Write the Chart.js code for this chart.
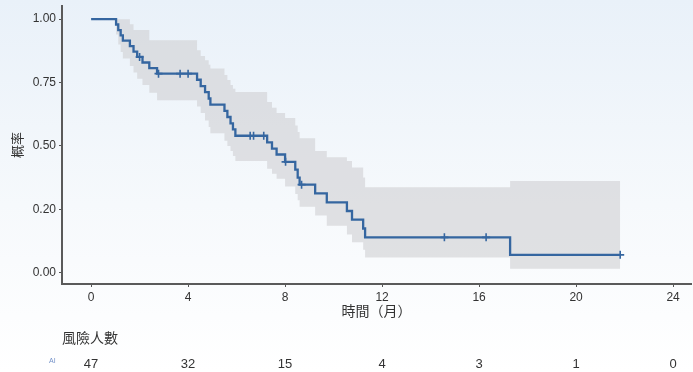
<!DOCTYPE html>
<html>
<head>
<meta charset="utf-8">
<script src="https://cdn.jsdelivr.net/npm/chart.js@4/dist/chart.umd.min.js"></script>
<style>
  html, body { margin: 0; padding: 0; background: #ffffff; }
  #wrap { width: 693px; height: 372px; }
</style>
</head>
<body>
<div id="wrap"><canvas id="km" width="693" height="372"></canvas></div>
<script>
// Kaplan-Meier estimate: step times (months) and survival after each step
const timePoints = [0, 1.03, 1.12, 1.22, 1.31, 1.60, 1.75, 1.90, 2.12, 2.40, 2.72,
  4.37, 4.52, 4.70, 4.85, 4.92, 5.50, 5.62, 5.75, 5.85, 5.95,
  7.26, 7.46, 7.65, 8.00, 8.42, 8.52, 8.60, 9.24, 9.72, 10.55, 10.76, 11.22, 11.30, 17.28, 21.82];
const survival = [1.000, 0.979, 0.957, 0.936, 0.915, 0.894, 0.872, 0.851, 0.829, 0.807, 0.785,
  0.761, 0.736, 0.712, 0.687, 0.663, 0.638, 0.614, 0.589, 0.565, 0.540,
  0.514, 0.489, 0.466, 0.437, 0.406, 0.375, 0.347, 0.313, 0.277, 0.243, 0.209, 0.174, 0.139, 0.070, 0.070];
// 95% confidence band
const upperCI = [1.000, 1.000, 1.000, 1.000, 1.000, 0.980, 0.957, 0.957, 0.957, 0.917, 0.917,
  0.877, 0.855, 0.838, 0.820, 0.805, 0.780, 0.760, 0.740, 0.725, 0.713,
  0.673, 0.650, 0.630, 0.610, 0.580, 0.555, 0.530, 0.480, 0.455, 0.440, 0.415, 0.375, 0.337, 0.361, 0.361];
const lowerCI = [1.000, 0.940, 0.900, 0.870, 0.845, 0.815, 0.790, 0.765, 0.740, 0.710, 0.680,
  0.655, 0.630, 0.600, 0.575, 0.550, 0.520, 0.500, 0.480, 0.460, 0.440,
  0.410, 0.390, 0.370, 0.340, 0.310, 0.285, 0.260, 0.225, 0.185, 0.150, 0.120, 0.090, 0.060, 0.015, 0.015];
// censored observations (months)
const censorTimes = [2.00, 2.78, 3.67, 4.00, 6.56, 6.70, 7.12, 8.02, 8.68, 14.57, 16.29, 21.82];

// axes
const xTickValues = [0, 4, 8, 12, 16, 20, 24];
const yTickValues = [0, 0.25, 0.5, 0.75, 1];
const yTickLabels = ['0.00', '0.20', '0.50', '0.75', '1.00'];
// number at risk at each x tick
const atRisk = [47, 32, 15, 4, 3, 1, 0];

const LINE = '#3566a0';
const TEXT = '#333333';
const NUM_FONT = '"Liberation Sans", Arial, sans-serif';
const CJK_FONT = '"Noto Sans CJK TC", "Noto Sans CJK SC", sans-serif';

function stepValueAt(t) {
  let v = survival[0];
  for (let i = 0; i < timePoints.length; i++) {
    if (timePoints[i] <= t) v = survival[i]; else break;
  }
  return v;
}

const toXY = arr => timePoints.map((t, i) => ({ x: t, y: arr[i] }));

const backdrop = {
  id: 'backdrop',
  beforeDraw(chart) {
    const { ctx, width, height } = chart;
    const g = ctx.createLinearGradient(0, 0, 0, height);
    g.addColorStop(0, 'rgb(233,241,249)');
    g.addColorStop(0.55, 'rgb(246,249,252)');
    g.addColorStop(1, 'rgb(255,255,255)');
    ctx.save();
    ctx.fillStyle = g;
    ctx.fillRect(0, 0, width, height);
    ctx.restore();
  }
};

const riskTable = {
  id: 'riskTable',
  afterDraw(chart) {
    const { ctx } = chart;
    const xs = chart.scales.x;
    ctx.save();
    ctx.textBaseline = 'middle';
    ctx.fillStyle = TEXT;
    ctx.textAlign = 'left';
    ctx.font = '14px ' + CJK_FONT;
    ctx.fillText('風險人數', 62, 338);
    ctx.textAlign = 'center';
    ctx.font = '13px ' + NUM_FONT;
    atRisk.forEach((n, i) => {
      ctx.fillText(String(n), xs.getPixelForValue(xTickValues[i]), 364);
    });
    ctx.textAlign = 'left';
    ctx.fillStyle = '#7391c8';
    ctx.font = '7px ' + NUM_FONT;
    ctx.fillText('AI', 49, 361);
    ctx.restore();
  }
};

new Chart(document.getElementById('km'), {
  type: 'line',
  data: {
    datasets: [
      {
        label: 'upper',
        data: toXY(upperCI),
        stepped: true,
        borderColor: 'rgba(0,0,0,0)',
        borderWidth: 0,
        pointRadius: 0,
        backgroundColor: 'rgba(208,209,211,0.62)',
        fill: '+1',
        order: 3
      },
      {
        label: 'lower',
        data: toXY(lowerCI),
        stepped: true,
        borderColor: 'rgba(0,0,0,0)',
        borderWidth: 0,
        pointRadius: 0,
        fill: false,
        order: 3
      },
      {
        label: 'survival',
        data: toXY(survival),
        stepped: true,
        borderColor: LINE,
        borderWidth: 2.3,
        pointRadius: 0,
        fill: false,
        order: 1
      },
      {
        label: 'censored',
        type: 'scatter',
        data: censorTimes.map(t => ({ x: t, y: stepValueAt(t) })),
        showLine: false,
        pointStyle: 'cross',
        pointRadius: 4,
        borderColor: LINE,
        borderWidth: 1.6,
        order: 0
      }
    ]
  },
  options: {
    responsive: false,
    animation: false,
    events: [],
    layout: { autoPadding: false, padding: { left: 0, right: 2, top: 6, bottom: 50 } },
    plugins: { legend: { display: false }, tooltip: { enabled: false } },
    scales: {
      x: {
        type: 'linear',
        min: -1.2,
        max: 24.74,
        afterBuildTicks: s => { s.ticks = xTickValues.map(v => ({ value: v })); },
        afterFit: s => { s.height = 38; s.paddingLeft = 0; s.paddingRight = 0; },
        grid: { drawOnChartArea: false, drawTicks: true, tickLength: 3, color: '#555555' },
        border: { display: true, color: '#5a5a5a', width: 2 },
        ticks: { padding: 3, color: TEXT, font: { family: NUM_FONT, size: 12 }, maxRotation: 0, autoSkip: false },
        title: { display: true, text: '時間（月）', color: TEXT, font: { family: CJK_FONT, size: 14 }, padding: { top: 0, bottom: 3 } }
      },
      y: {
        type: 'linear',
        min: -0.045,
        max: 1.052,
        afterBuildTicks: s => { s.ticks = yTickValues.map(v => ({ value: v })); },
        afterFit: s => { s.width = 62; s.paddingTop = 0; s.paddingBottom = 0; },
        grid: { drawOnChartArea: false, drawTicks: true, tickLength: 3, color: '#555555' },
        border: { display: true, color: '#5a5a5a', width: 2 },
        ticks: {
          padding: 3, color: TEXT, font: { family: NUM_FONT, size: 12 }, autoSkip: false,
          callback: (v, i) => yTickLabels[i]
        },
        title: { display: true, text: '概率', color: TEXT, font: { family: CJK_FONT, size: 13 }, padding: { top: 9, bottom: 0 } }
      }
    }
  },
  plugins: [backdrop, riskTable]
});
</script>
</body>
</html>
